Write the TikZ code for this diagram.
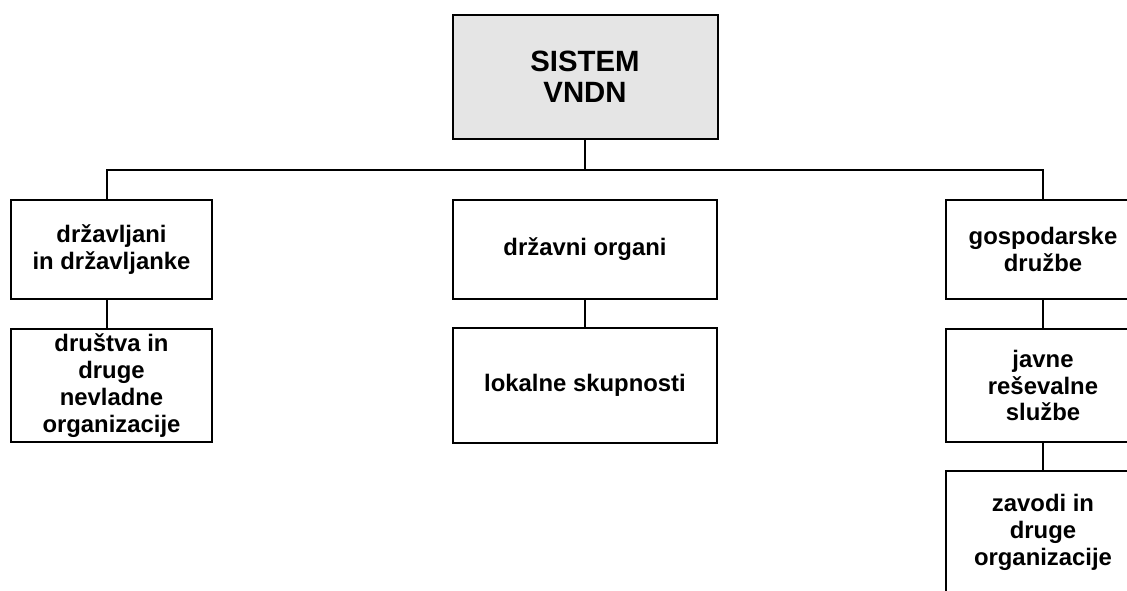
\documentclass[tikz,border=0pt]{standalone}
\usepackage{fontspec}
\setmainfont{Liberation Sans}

\begin{document}
\begin{tikzpicture}[x=0.75pt, y=-0.75pt, line width=1.5pt,
    box/.style={draw, inner sep=0pt, align=center, font=\fontsize{17.9}{20.2}\selectfont\bfseries},
    topbox/.style={draw, fill=black!10, inner sep=0pt, align=center, font=\fontsize{22}{23.5}\selectfont\bfseries}]
    \useasboundingbox (0,0) rectangle (1127,590);
    \clip (0,0) rectangle (1127,590);

    % Vrh
    \node[topbox, minimum width=198.75pt, minimum height=93pt] (sistem) at (585,77) {SISTEM\\VNDN};

    % Prva vrsta
    \node[box, minimum width=150.75pt, minimum height=74.25pt] (drzavljani) at (111.5,249.5) {državljani\\in državljanke};
    \node[box, minimum width=198pt, minimum height=74.25pt] (organi) at (585,249.5) {državni organi};
    \node[box, minimum width=145.5pt, minimum height=74.25pt] (druzbe) at (1043,249.5) {gospodarske\\družbe};

    % Druga vrsta
    \node[box, minimum width=150.75pt, minimum height=84.75pt] (drustva) at (111.5,385.5) {društva in\\druge\\nevladne\\organizacije};
    \node[box, minimum width=198pt, minimum height=86.25pt] (skupnosti) at (585,385.5) {lokalne skupnosti};
    \node[box, minimum width=145.5pt, minimum height=84.75pt] (sluzbe) at (1043,385.5) {javne\\reševalne\\službe};

    % Tretja vrsta
    \node[box, minimum width=145.5pt, minimum height=91.5pt] (zavodi) at (1043,532) {zavodi in\\druge\\organizacije};

    % Povezave
    \coordinate (hub) at (585,170);
    \draw (sistem.south) -- (hub);
    \draw ([xshift=-3.4pt]drzavljani.north) |- (hub) -| (druzbe.north);
    \draw ([xshift=-3.4pt]drzavljani.south) -- ([xshift=-3.4pt]drustva.north);
    \draw (organi.south) -- (skupnosti.north);
    \draw (druzbe.south) -- (sluzbe.north);
    \draw (sluzbe.south) -- (zavodi.north);
\end{tikzpicture}
\end{document}
